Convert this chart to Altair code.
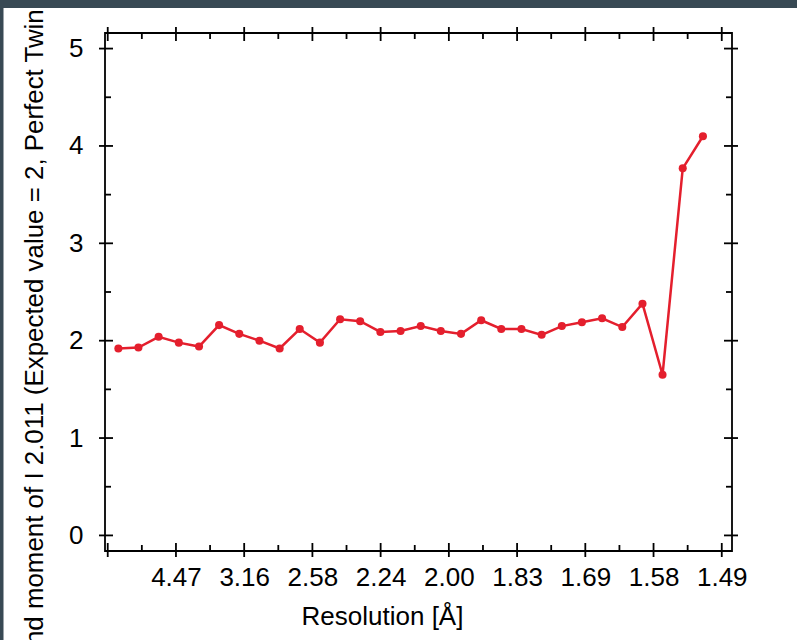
import altair as alt
import pandas as pd

# ---- data ----
# x: bin centre in 1/d^2 (Å^-2); y: second moment of I
inv_d2 = [0.0078, 0.0225, 0.0373, 0.0521, 0.0669, 0.0816, 0.0964, 0.1112, 0.1260, 0.1407,
          0.1555, 0.1703, 0.1850, 0.1998, 0.2146, 0.2294, 0.2441, 0.2589, 0.2737, 0.2884,
          0.3032, 0.3180, 0.3328, 0.3475, 0.3623, 0.3771, 0.3919, 0.4066, 0.4214, 0.4362]
moment2 = [1.92, 1.93, 2.04, 1.98, 1.94, 2.16, 2.07, 2.00, 1.92, 2.12,
           1.98, 2.22, 2.20, 2.09, 2.10, 2.15, 2.10, 2.07, 2.21, 2.12,
           2.12, 2.06, 2.15, 2.19, 2.23, 2.14, 2.38, 1.65, 3.77, 4.10]

x_major = [0.0, 0.05, 0.10, 0.15, 0.20, 0.25, 0.30, 0.35, 0.40, 0.45]
x_minor = [0.025, 0.075, 0.125, 0.175, 0.225, 0.275, 0.325, 0.375, 0.425]
x_labels = ["", "4.47", "3.16", "2.58", "2.24", "2.00", "1.83", "1.69", "1.58", "1.49"]
y_major = [0, 1, 2, 3, 4, 5]
y_minor = [0.5, 1.5, 2.5, 3.5, 4.5]

W, H = 627, 518
FONT = "Liberation Sans"
RED = "#e41f2d"
BAND = "#384954"

df = pd.DataFrame({"x": inv_d2, "y": moment2})
xscale = alt.Scale(domain=[-0.002, 0.4575], nice=False, zero=False)
yscale = alt.Scale(domain=[-0.16, 5.16], nice=False, zero=False)

label_expr = "[" + ",".join("'" + s + "'" for s in x_labels) + "][round(datum.value * 20)]"

x_axis = alt.Axis(values=x_major, labelExpr=label_expr, grid=False, domain=False, ticks=False,
                  tickSize=0, labelFont=FONT, labelFontSize=26, labelColor="black",
                  labelBaseline="alphabetic", labelPadding=34, labelFlush=False,
                  title="Resolution [Å]", titleFont=FONT, titleFontSize=26,
                  titleFontWeight="normal", titleColor="black", titleX=277, titleY=73,
                  titleAlign="center", titleBaseline="alphabetic")
y_axis = alt.Axis(values=y_major, grid=False, domain=False, ticks=False, tickSize=0,
                  labelFont=FONT, labelFontSize=26, labelColor="black", labelPadding=22,
                  labelFlush=False,
                  title="2nd moment of I 2.011 (Expected value = 2, Perfect Twin = 1.5)",
                  titleFont=FONT, titleFontSize=25.9, titleFontWeight="normal",
                  titleColor="black", titleAngle=270, titleX=-63, titleY=626,
                  titleAlign="left", titleBaseline="alphabetic")

X = alt.X("x:Q", scale=xscale, axis=x_axis)
Y = alt.Y("y:Q", scale=yscale, axis=y_axis)

base = alt.Chart(df)
line = base.mark_line(color=RED, strokeWidth=2.5).encode(x=X, y=Y)
pts = base.mark_circle(color=RED, size=65, opacity=1).encode(x=X, y=Y)

ymaj = alt.Chart(pd.DataFrame({"y": y_major}))
ymin = alt.Chart(pd.DataFrame({"y": y_minor}))
xmaj = alt.Chart(pd.DataFrame({"x": x_major}))
xmin = alt.Chart(pd.DataFrame({"x": x_minor}))

def hrule(src, x0, x1):
    return src.mark_rule(color="black", strokeWidth=1.8).encode(
        y=Y, x=alt.value(x0), x2=alt.value(x1))

def vrule(src, y0, y1):
    return src.mark_rule(color="black", strokeWidth=1.8).encode(
        x=X, y=alt.value(y0), y2=alt.value(y1))

ticks = [
    hrule(ymaj, -6, 8), hrule(ymaj, W - 8, W + 6),
    hrule(ymin, 0, 6), hrule(ymin, W - 6, W),
    vrule(xmaj, H - 8, H + 6), vrule(xmaj, -6, 8),
    vrule(xmin, H - 6, H), vrule(xmin, 0, 6),
]

one = alt.Chart(pd.DataFrame({"k": [0]}))
top_band = one.mark_rect(color=BAND).encode(
    x=alt.value(-105), x2=alt.value(W + 65), y=alt.value(-40), y2=alt.value(-25))
left_band = one.mark_rect(color=BAND).encode(
    x=alt.value(-110), x2=alt.value(-101.5), y=alt.value(-40), y2=alt.value(H + 100))

chart = alt.layer(line, pts, *ticks, top_band, left_band).properties(
    width=W, height=H,
    padding={"left": 105, "top": 33, "right": 65, "bottom": 89},
    autosize=alt.AutoSizeParams(type="none"),
    background="white",
).configure_view(stroke="black", strokeWidth=1.8)

chart.save("out.html", embed_options={"renderer": "svg", "actions": False})
